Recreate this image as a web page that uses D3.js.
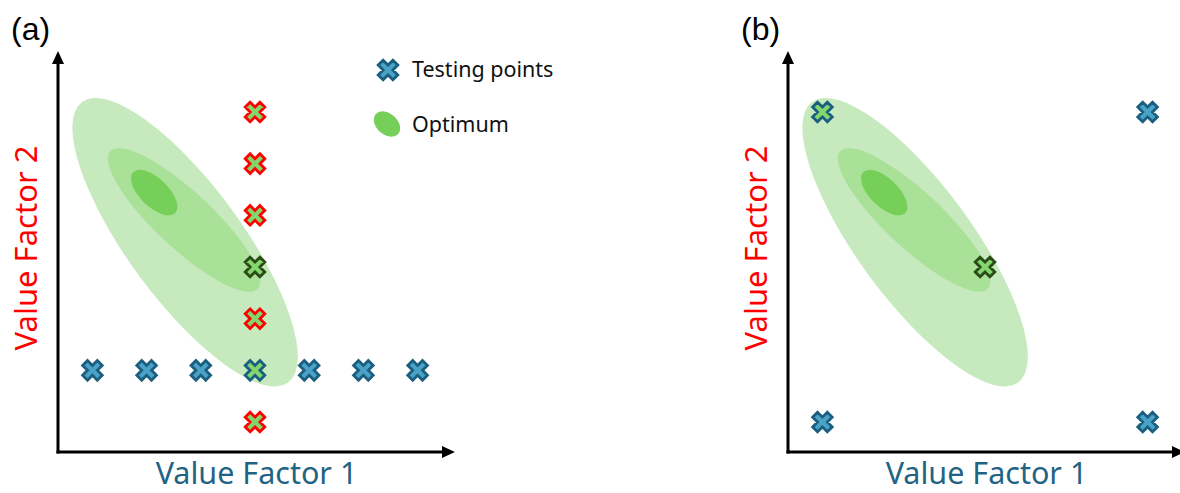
<!DOCTYPE html>
<html><head><meta charset="utf-8">
<script src="https://cdn.jsdelivr.net/npm/d3@7"></script>
<style>body{margin:0;background:#fff}svg{display:block}</style>
</head><body>
<svg id="c" width="1180" height="493"></svg>
<script>
// ---- data ----
const panels = ["(a)", "(b)"];
const xLabel = "Value Factor 1";
const yLabel = "Value Factor 2";
const legendLabels = ["Testing points", "Optimum"];
// testing points panel (a): [factor1 level, factor2 level, kind]
const pointsA = [
  [-3,-2,"blue"],[-2,-2,"blue"],[-1,-2,"blue"],[1,-2,"blue"],[2,-2,"blue"],[3,-2,"blue"],
  [0,3,"red"],[0,2,"red"],[0,1,"red"],[0,0,"dark"],[0,-1,"red"],[0,-3,"red"],[0,-2,"bluegreen"]
];
const pointsB = [[-3,3,"bluegreen"],[3,3,"blue"],[-3,-3,"blue"],[3,-3,"blue"],[0,0,"dark"]];
// optimum contours: centre (f1, f2), semi-axes in factor units, angle (deg)
const ellCx = [-1.29, -1.31, -1.86];
const ellCy = [0.48, 0.91, 1.44];
const ellA  = [3.21, 1.86, 0.54];
const ellB  = [1.05, 0.52, 0.26];
const ellAng = [53.7, 43, 44];
const ellFill = ["#c6eabd", "#a9e198", "#76cf58"];

// ---- styles ----
const styles = {
  blue:{fill:"#4aa3c6", stroke:"#1b5f80"},
  bluegreen:{fill:"#82d66c", stroke:"#1b5f80"},
  red:{fill:"#82d66c", stroke:"#ff0000"},
  dark:{fill:"#82d66c", stroke:"#2a4a18"}
};
const svg = d3.select("#c");
const x = d3.scaleLinear().domain([-3.635, 3.69]).range([58, 455]);
const y = d3.scaleLinear().domain([-3.58, 4.18]).range([452, 51]);
const kx = x(1) - x(0);

const cross = d3.symbol().type(d3.symbolCross).size(240)();

function drawPanel(g, pts, label) {
  const gg = g.append("g");
  ellCx.forEach((cx, i) => {
    gg.append("ellipse")
      .attr("transform", `translate(${x(cx)},${y(ellCy[i])}) rotate(${ellAng[i]})`)
      .attr("rx", ellA[i]*kx).attr("ry", ellB[i]*kx)
      .attr("fill", ellFill[i]);
  });
  // axes
  const x0 = x.range()[0], y0 = y.range()[0];
  g.append("line").attr("x1", x0).attr("y1", y0+1.5).attr("x2", x0).attr("y2", y.range()[1]+10)
    .attr("stroke","#000").attr("stroke-width",3);
  g.append("path").attr("d", `M${x0},${y.range()[1]} l-6,13 l12,0 z`).attr("fill","#000");
  g.append("line").attr("x1", x0-1.5).attr("y1", y0).attr("x2", x.range()[1]-10).attr("y2", y0)
    .attr("stroke","#000").attr("stroke-width",3);
  g.append("path").attr("d", `M${x.range()[1]},${y0} l-13,-6 l0,12 z`).attr("fill","#000");
  // points
  g.selectAll("path.pt").data(pts).join("path").attr("class","pt")
    .attr("d", cross)
    .attr("transform", d => `translate(${x(d[0])},${y(d[1])}) rotate(45)`)
    .attr("fill", d => styles[d[2]].fill)
    .attr("stroke", d => styles[d[2]].stroke)
    .attr("stroke-width", 2.8).attr("stroke-linejoin","miter");
  // labels
  g.append("text").attr("x", 11).attr("y", 40).text(label)
    .attr("font-family","Liberation Sans, Arial, sans-serif").attr("font-size", 32).attr("fill","#000");
  g.append("text").attr("x", (x.range()[0]+x.range()[1])/2).attr("y", 484)
    .attr("text-anchor","middle").text(xLabel)
    .attr("font-family","Noto Sans, sans-serif").attr("font-size", 30.5).attr("fill","#1f6385");
  g.append("text").attr("transform", `translate(37,248) rotate(-90)`)
    .attr("text-anchor","middle").text(yLabel)
    .attr("font-family","Noto Sans, sans-serif").attr("font-size", 31).attr("fill","#ff0000");
}
const gA = svg.append("g");
drawPanel(gA, pointsA, panels[0]);
const gB = svg.append("g").attr("transform","translate(730,0)");
drawPanel(gB, pointsB, panels[1]);

// legend
const lg = svg.append("g");
lg.append("path").attr("d", cross).attr("transform","translate(388,70) rotate(45)")
  .attr("fill", styles.blue.fill).attr("stroke", styles.blue.stroke).attr("stroke-width",2.8);
lg.append("ellipse").attr("transform","translate(387,124) rotate(42)").attr("rx",15).attr("ry",10.5)
  .attr("fill","#76cf58");
lg.selectAll("text").data(legendLabels).join("text")
  .attr("x", 412).attr("y", (d,i) => 77 + i*55).text(d => d)
  .attr("font-family","Noto Sans, sans-serif").attr("font-size", 21.5).attr("fill","#111");
</script>
</body></html>
